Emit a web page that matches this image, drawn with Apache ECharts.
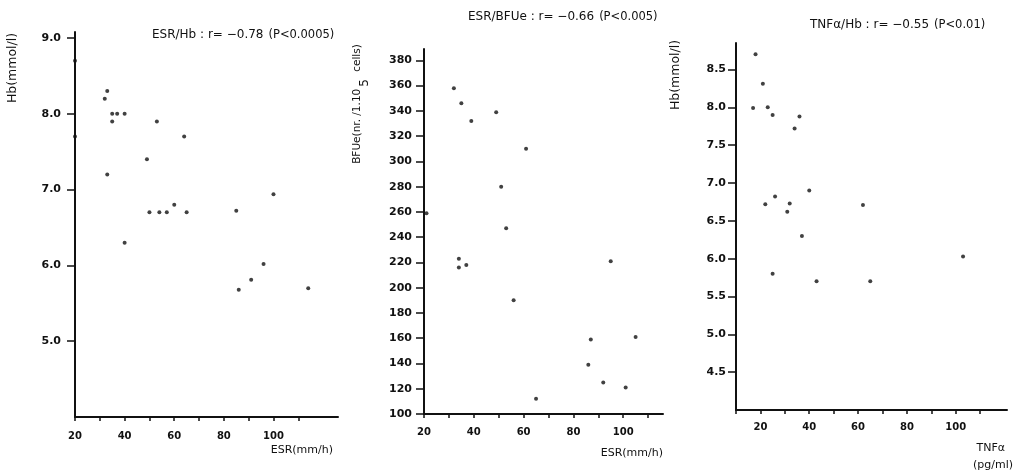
<!DOCTYPE html>
<html>
<head>
<meta charset="utf-8">
<script src="https://cdn.jsdelivr.net/npm/echarts@6/dist/echarts.min.js"></script>
<style>
  html, body { margin: 0; background: #fff; }
  #chart { width: 1025px; height: 471px; }
</style>
</head>
<body>
<div id="chart"></div>
<script>
// ESR / Hb
var esrHbX = [20, 20, 32, 33, 35, 37, 35, 40, 33, 53, 64, 49, 50, 54, 57, 60, 65, 85, 100, 40, 86, 91, 96, 114];
var esrHbY = [8.7, 7.7, 8.2, 8.3, 8.0, 8.0, 7.9, 8.0, 7.2, 7.9, 7.7, 7.4, 6.7, 6.7, 6.7, 6.8, 6.7, 6.72, 6.94, 6.3, 5.68, 5.81, 6.02, 5.7];
// ESR / BFUe
var esrBfueX = [53, 32, 35, 39, 49, 61, 51, 21, 53, 34, 34, 37, 56, 65, 95, 87, 86, 92, 105, 101];
var esrBfueY = [395, 358, 346, 332, 339, 310, 280, 259, 247, 223, 216, 218, 190, 112, 221, 159, 139, 125, 161, 121];
// TNFa / Hb
var tnfHbX = [18, 21, 17, 23, 25, 36, 34, 40, 26, 22, 32, 31, 62, 37, 25, 43, 65, 103];
var tnfHbY = [8.7, 8.31, 7.99, 8.0, 7.9, 7.88, 7.72, 6.9, 6.82, 6.72, 6.73, 6.62, 6.71, 6.3, 5.8, 5.7, 5.7, 6.03];

var hbTicks1 = [5, 6, 7, 8, 9];
var bfueTicks = [100, 120, 140, 160, 180, 200, 220, 240, 260, 280, 300, 320, 340, 360, 380];
var hbTicks3 = [4.5, 5, 5.5, 6, 6.5, 7, 7.5, 8, 8.5];
var xLabels = [20, 40, 60, 80, 100];
var xTicks1 = [20, 30, 40, 50, 60, 70, 80, 90, 100, 110];
var xTicks3 = [10, 20, 30, 40, 50, 60, 70, 80, 90, 100, 110];

function pairs(xs, ys) {
  return xs.map(function (x, i) { return [x, ys[i]]; });
}

var font = "'DejaVu Sans', sans-serif";
var ink = '#111';

function xAxis(idx, min, max, ticks, margin) {
  return {
    type: 'value', gridIndex: idx, min: min, max: max,
    splitLine: { show: false },
    axisLine: { lineStyle: { color: ink, width: 2 } },
    axisTick: { customValues: ticks, length: 4, lineStyle: { color: ink, width: 1.5 } },
    axisLabel: { customValues: xLabels, margin: margin, color: ink, fontSize: 10, fontWeight: 'bold', fontFamily: font }
  };
}
function yAxis(idx, min, max, ticks, digits, margin) {
  return {
    type: 'value', gridIndex: idx, min: min, max: max,
    splitLine: { show: false },
    axisLine: { lineStyle: { color: ink, width: 2 } },
    axisTick: { customValues: ticks, length: 8, lineStyle: { color: ink, width: 1.5 } },
    axisLabel: {
      customValues: ticks, margin: margin, color: ink, fontSize: 11, fontWeight: 'bold', fontFamily: font,
      formatter: function (v) { return digits ? v.toFixed(digits) : String(v); }
    }
  };
}
function dots(idx, data) {
  return {
    type: 'scatter', xAxisIndex: idx, yAxisIndex: idx, data: data,
    symbolSize: 4, itemStyle: { color: ink }, silent: true
  };
}
function title(text, p, left, top) {
  return {
    text: '{a|' + text + '} {b|' + p + '}', left: left, top: top, padding: 0,
    textStyle: {
      fontWeight: 'normal',
      rich: {
        a: { fontSize: 12, fontFamily: font, color: ink, fontWeight: 'normal' },
        b: { fontSize: 11.5, fontFamily: font, color: ink, fontWeight: 'normal' }
      }
    }
  };
}
function label(text, x, y, opts) {
  var o = {
    type: 'text', x: x, y: y,
    style: { text: text, fontSize: 11, fontFamily: font, fill: ink, align: 'center', verticalAlign: 'middle' }
  };
  if (opts && opts.rotate) { o.rotation = Math.PI / 2; o.style.fontSize = 12.5; }
  if (opts && opts.align) o.style.align = opts.align;
  if (opts && opts.rich) o.style.rich = opts.rich;
  return o;
}

var chart = echarts.init(document.getElementById('chart'));
chart.setOption({
  backgroundColor: '#fff',
  animation: false,
  title: [
    title('ESR/Hb : r= \u22120.78', '(P<0.0005)', 152, 26),
    title('ESR/BFUe : r= \u22120.66', '(P<0.005)', 468, 8),
    title('TNF\u03b1/Hb : r= \u22120.55', '(P<0.01)', 810, 16)
  ],
  grid: [
    { left: 75, top: 32, width: 263, height: 385 },
    { left: 424, top: 49, width: 239, height: 365 },
    { left: 736, top: 43, width: 271, height: 367 }
  ],
  xAxis: [
    xAxis(0, 20, 126, xTicks1, 14),
    xAxis(1, 20, 116, xTicks1, 13),
    xAxis(2, 10, 121, xTicks3, 12)
  ],
  yAxis: [
    yAxis(0, 4, 9.08, hbTicks1, 1, 14),
    yAxis(1, 100, 389, bfueTicks, 0, 12),
    yAxis(2, 4, 8.85, hbTicks3, 1, 10)
  ],
  series: [
    dots(0, pairs(esrHbX, esrHbY)),
    dots(1, pairs(esrBfueX, esrBfueY)),
    dots(2, pairs(tnfHbX, tnfHbY))
  ],
  graphic: [
    label('Hb(mmol/l)', 13, 68, { rotate: true }),
    label('ESR(mm/h)', 333, 450, { align: 'right' }),
    label('{a|BFUe(nr. /1.10}{s|5}{a| cells)}', 357, 104, {
      rotate: true,
      rich: {
        a: { fontSize: 10.5, fontFamily: font, fill: ink, lineHeight: 28, verticalAlign: 'middle' },
        s: { fontSize: 12, fontFamily: font, fill: ink, lineHeight: 12, verticalAlign: 'bottom', padding: [0, 4, 0, 2] }
      }
    }),
    label('ESR(mm/h)', 663, 453, { align: 'right' }),
    label('Hb(mmol/l)', 676, 75, { rotate: true }),
    label('TNF\u03b1', 1005, 448, { align: 'right' }),
    label('(pg/ml)', 1013, 465, { align: 'right' })
  ]
});
</script>
</body>
</html>
